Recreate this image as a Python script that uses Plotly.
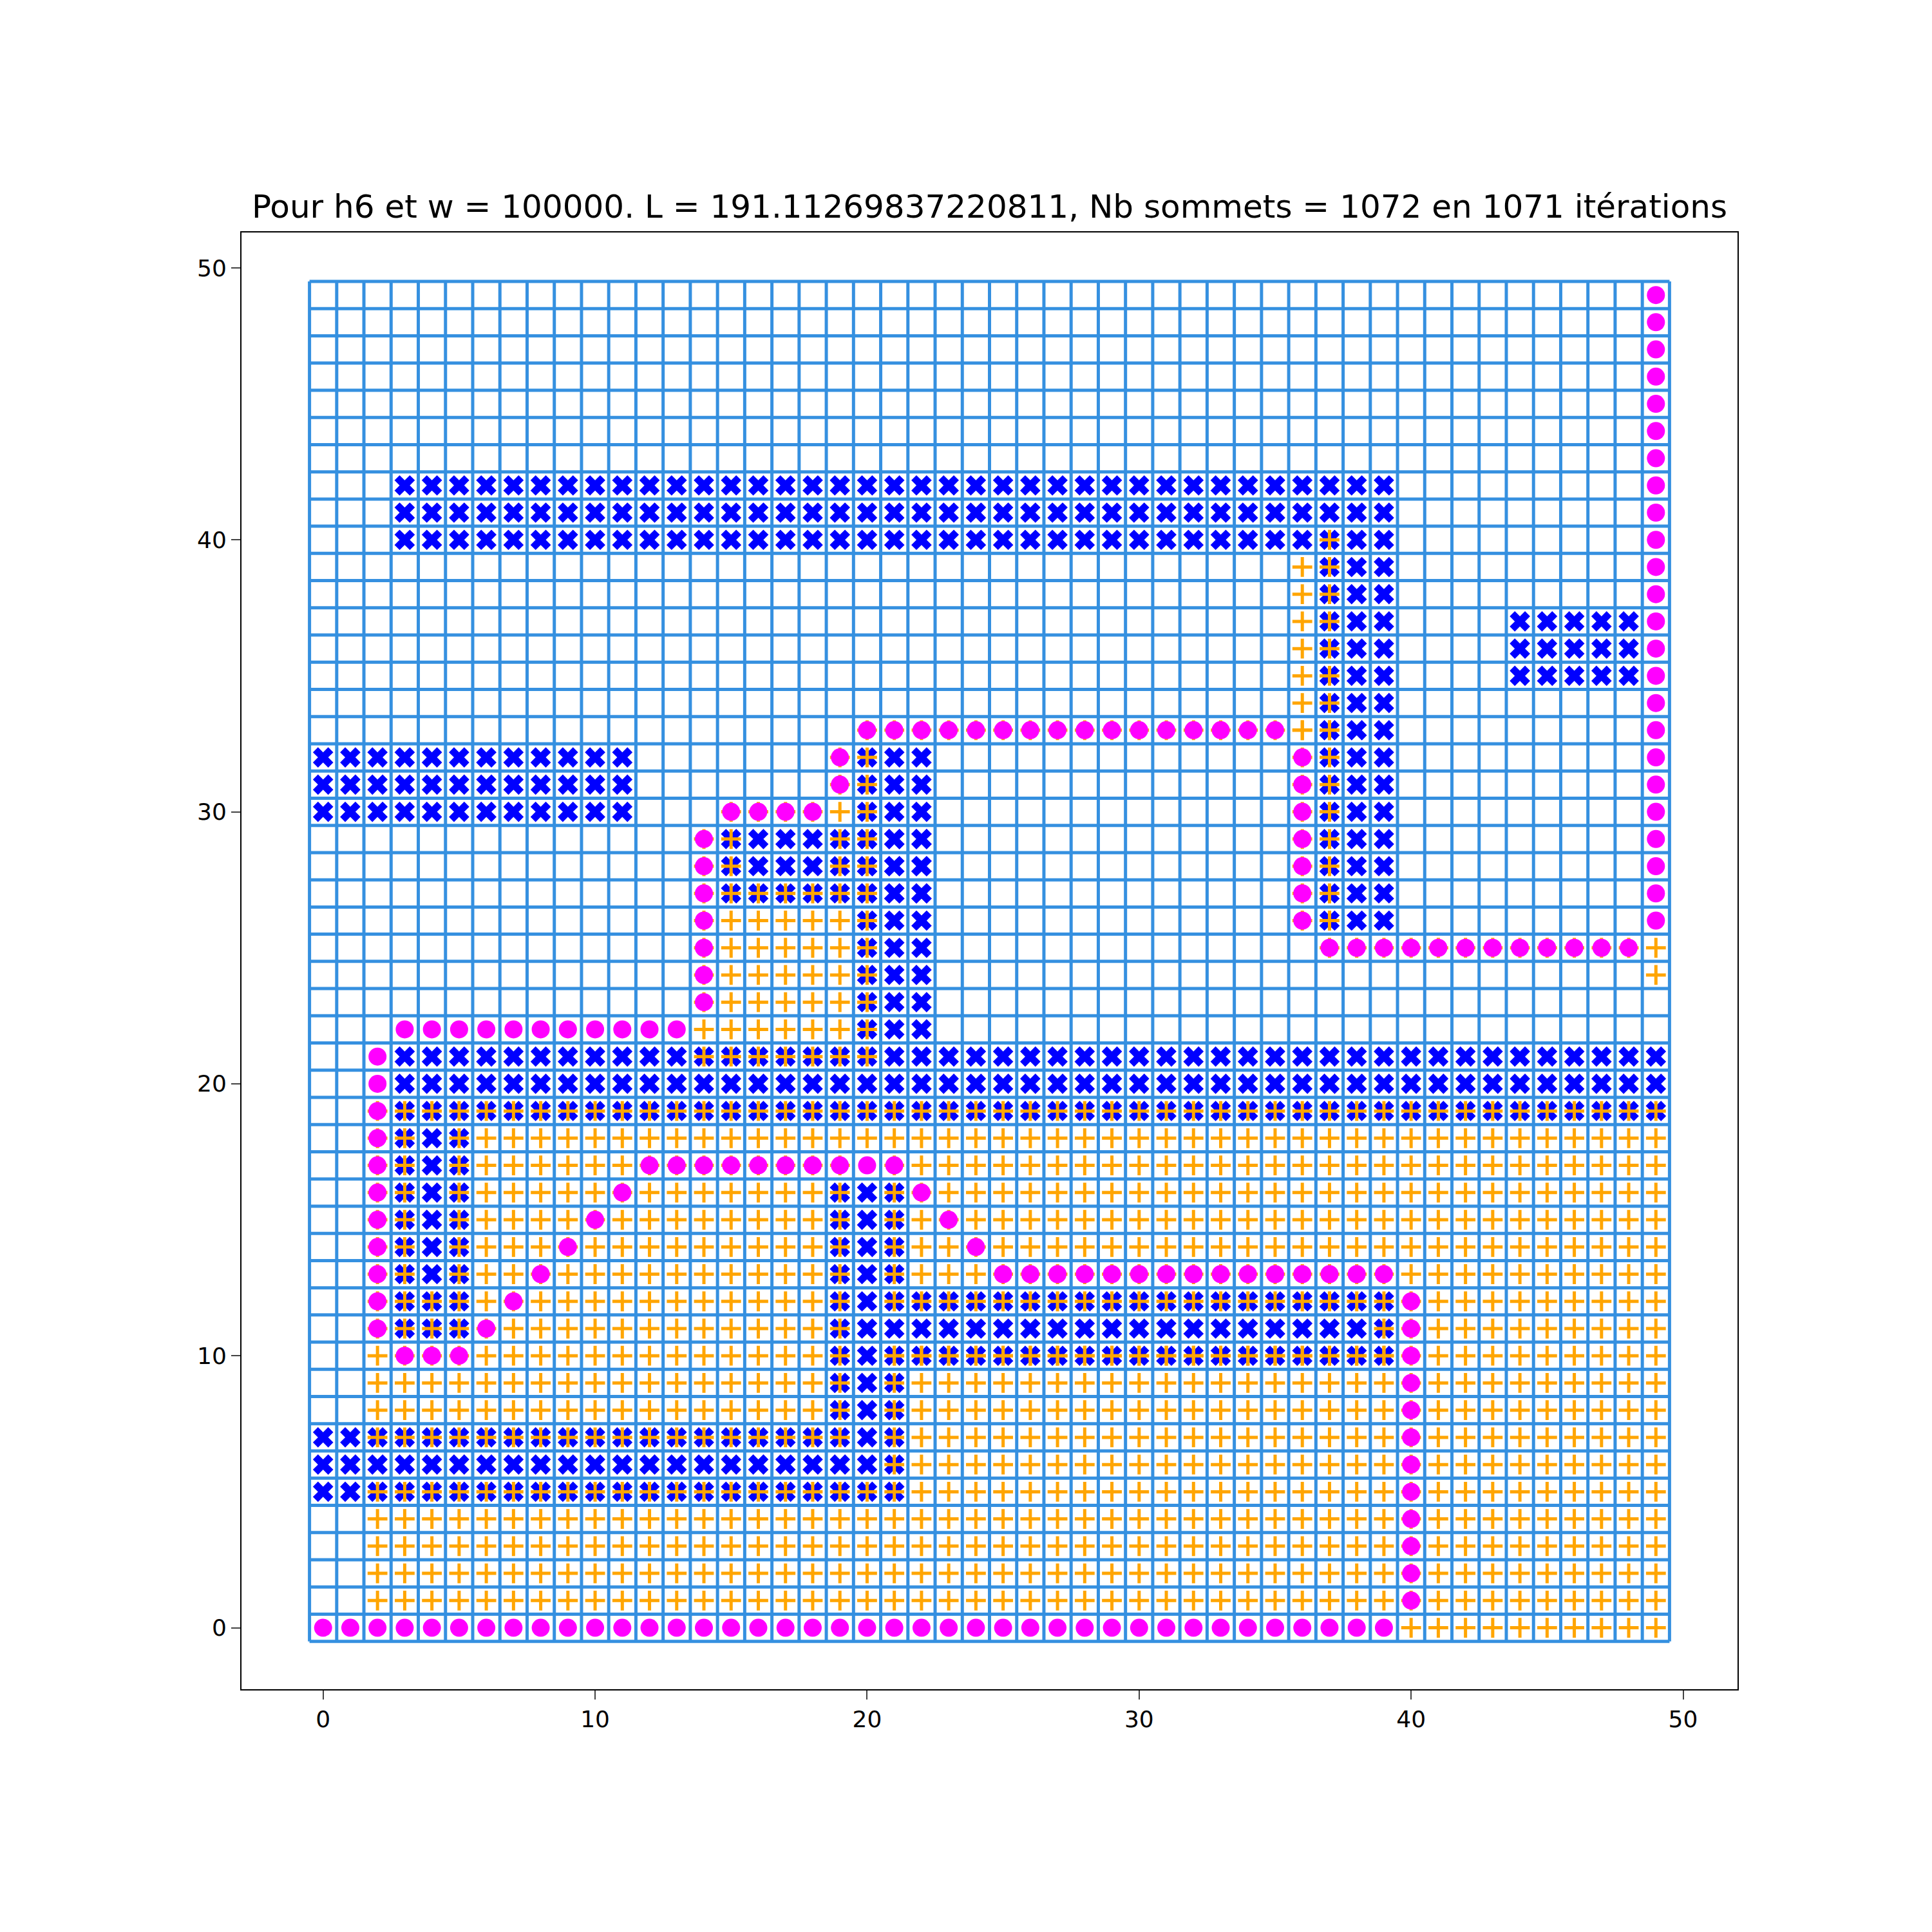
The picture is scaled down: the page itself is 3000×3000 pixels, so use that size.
import plotly.graph_objects as go

N = 50
# Wall rectangles: (x0, x1, y0, y1) inclusive
walls_rects = [(3, 39, 40, 42), (37, 39, 26, 39), (44, 48, 35, 37), (0, 11, 30, 32),
               (20, 22, 22, 32), (15, 22, 27, 29), (3, 49, 19, 21), (3, 5, 11, 18),
               (19, 21, 8, 16), (22, 39, 10, 12), (0, 21, 5, 7)]
# Visited cells: (row, x0, x1)
visited_rows = [(0, 40, 49)] + [(r, 2, 49) for r in (1, 2, 3, 4, 5)] + [(6, 21, 49),
    (7, 2, 19), (7, 21, 49)] + [(r, 2, 19) for r in (8, 9, 10, 12)] + \
    [(r, 21, 49) for r in (8, 9, 10, 12)] + [(11, 2, 19), (11, 39, 49), (10, 21, 39)] + \
    [(r, 2, 3) for r in range(13, 19)] + [(r, 5, 19) for r in range(13, 18)] + \
    [(r, 21, 49) for r in range(13, 18)] + [(18, 5, 49), (19, 2, 49)] + \
    [(r, 14, 20) for r in range(21, 28)] + [(28, 14, 15), (28, 19, 20), (29, 14, 15), (29, 19, 20),
    (30, 15, 20), (31, 19, 20), (32, 19, 20), (33, 20, 37)] + \
    [(r, 36, 37) for r in range(26, 40)] + [(40, 37, 37), (25, 37, 49), (24, 49, 49)]
# Path as straight runs between waypoints (x0, y0, x1, y1)
path_runs = [(0, 0, 39, 0), (40, 1, 40, 12), (39, 13, 25, 13), (24, 14, 22, 16), (21, 17, 12, 17),
             (11, 16, 6, 11), (5, 10, 3, 10), (2, 11, 2, 21), (3, 22, 13, 22), (14, 23, 14, 29),
             (15, 30, 18, 30), (19, 31, 19, 32), (20, 33, 35, 33), (36, 32, 36, 26),
             (37, 25, 48, 25), (49, 26, 49, 49)]

wx, wy = [], []
for x0, x1, y0, y1 in walls_rects:
    for x in range(x0, x1 + 1):
        for y in range(y0, y1 + 1):
            wx.append(x); wy.append(y)
vx, vy = [], []
for r, x0, x1 in visited_rows:
    for x in range(x0, x1 + 1):
        vx.append(x); vy.append(r)
px, py = [], []
for x0, y0, x1, y1 in path_runs:
    n = max(abs(x1 - x0), abs(y1 - y0))
    sx = (x1 > x0) - (x1 < x0); sy = (y1 > y0) - (y1 < y0)
    for i in range(n + 1):
        px.append(x0 + i * sx); py.append(y0 + i * sy)

gx, gy = [], []
for k in range(N + 1):
    v = k - 0.5
    gx += [v, v, None]; gy += [-0.5, N - 0.5, None]
    gx += [-0.5, N - 0.5, None]; gy += [v, v, None]

fig = go.Figure()
fig.add_trace(go.Scatter(x=gx, y=gy, mode="lines", line=dict(color="#3590e0", width=5), hoverinfo="skip"))
fig.add_trace(go.Scatter(x=wx, y=wy, mode="markers",
                         marker=dict(symbol="x", size=28, color="blue", line=dict(width=0))))
fig.add_trace(go.Scatter(x=vx, y=vy, mode="markers",
                         marker=dict(symbol="cross-thin", size=22, line=dict(color="orange", width=5))))
fig.add_trace(go.Scatter(x=px, y=py, mode="markers",
                         marker=dict(symbol="circle", size=28, color="#ff00ff", line=dict(width=0))))

ax = dict(showgrid=False, zeroline=False, showline=True, mirror=True, linecolor="black", linewidth=2,
          ticks="outside", ticklen=14, tickwidth=2, tickfont=dict(size=36, color="black"),
          tickvals=[0, 10, 20, 30, 40, 50])
fig.update_layout(
    width=3000, height=3000, plot_bgcolor="white", paper_bgcolor="white", showlegend=False,
    margin=dict(l=367, r=310, t=353, b=385),
    title=dict(text="Pour h6 et w = 100000. L = 191.11269837220811, Nb sommets = 1072 en 1071 itérations",
               x=0.5, xref="paper", y=1 - 312 / 3000, yanchor="middle", font=dict(size=50, color="black", family="DejaVu Sans")),
    font=dict(family="DejaVu Sans"),
    xaxis=dict(range=[-3, 52], **ax),
    yaxis=dict(range=[-2.26, 51.3], **ax),
)
fig.write_html("out.html")
